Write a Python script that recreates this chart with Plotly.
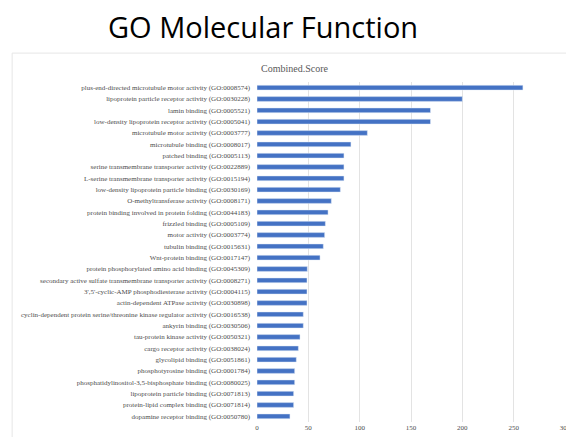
import plotly.graph_objects as go

terms = [
    "plus-end-directed microtubule motor activity (GO:0008574)",
    "lipoprotein particle receptor activity (GO:0030228)",
    "lamin binding (GO:0005521)",
    "low-density lipoprotein receptor activity (GO:0005041)",
    "microtubule motor activity (GO:0003777)",
    "microtubule binding (GO:0008017)",
    "patched binding (GO:0005113)",
    "serine transmembrane transporter activity (GO:0022889)",
    "L-serine transmembrane transporter activity (GO:0015194)",
    "low-density lipoprotein particle binding (GO:0030169)",
    "O-methyltransferase activity (GO:0008171)",
    "protein binding involved in protein folding (GO:0044183)",
    "frizzled binding (GO:0005109)",
    "motor activity (GO:0003774)",
    "tubulin binding (GO:0015631)",
    "Wnt-protein binding (GO:0017147)",
    "protein phosphorylated amino acid binding (GO:0045309)",
    "secondary active sulfate transmembrane transporter activity (GO:0008271)",
    "3',5'-cyclic-AMP phosphodiesterase activity (GO:0004115)",
    "actin-dependent ATPase activity (GO:0030898)",
    "cyclin-dependent protein serine/threonine kinase regulator activity (GO:0016538)",
    "ankyrin binding (GO:0030506)",
    "tau-protein kinase activity (GO:0050321)",
    "cargo receptor activity (GO:0038024)",
    "glycolipid binding (GO:0051861)",
    "phosphotyrosine binding (GO:0001784)",
    "phosphatidylinositol-3,5-bisphosphate binding (GO:0080025)",
    "lipoprotein particle binding (GO:0071813)",
    "protein-lipid complex binding (GO:0071814)",
    "dopamine receptor binding (GO:0050780)",
]
scores = [259, 200, 169, 169, 107.5, 91.5, 84.7, 84.7, 84.7, 81.2,
          72.4, 69.2, 66.6, 65.9, 64.6, 61.4, 49, 48.7, 48.7, 48.7,
          45.1, 45.1, 41.9, 40.3, 38.3, 36.7, 36.7, 35.7, 35.7, 32.1]

# page body has an 8px margin, so the figure is a bit smaller than the window
fig = go.Figure(go.Bar(x=scores, y=terms, orientation="h",
                       marker_color="#4472C4", width=0.42))

fig.update_layout(
    width=566, height=429,
    margin=dict(l=249, r=9, t=74, b=15, autoexpand=False),
    plot_bgcolor="white", paper_bgcolor="white",
    showlegend=False,
    font=dict(family="Liberation Serif", color="#4d4d4d", size=7),
    annotations=[
        dict(text="GO Molecular Function", xref="paper", yref="paper",
             x=0.02, y=1.162, xanchor="center", yanchor="middle", showarrow=False,
             font=dict(family="Open Sans", size=29, color="black")),
        dict(text="Combined.Score", xref="paper", yref="paper",
             x=0.123, y=1.041, xanchor="center", yanchor="middle", showarrow=False,
             font=dict(family="Liberation Serif", size=10, color="#595959")),
    ],
    shapes=[dict(type="rect", xref="paper", yref="paper",
                 x0=-0.795, x1=1.026, y0=-0.1, y1=1.085,
                 line=dict(color="#e6e6e6", width=1), layer="below")],
)
fig.update_xaxes(range=[0, 300], dtick=50, showgrid=True, gridcolor="#e3e3e3",
                 zeroline=False, showline=False, tickfont=dict(size=7))
fig.update_yaxes(autorange="reversed", showgrid=False, ticklabelstandoff=6,
                 tickfont=dict(size=7))

fig.write_html("out.html")
